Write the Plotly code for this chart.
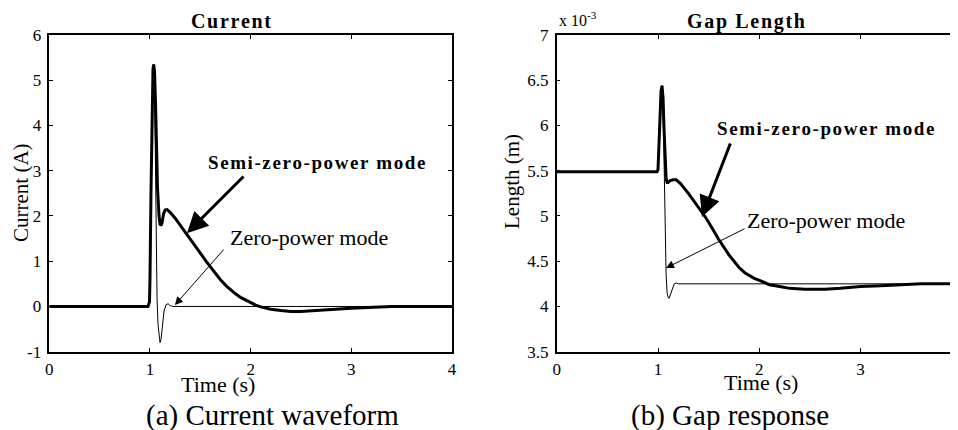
import plotly.graph_objects as go

# ---------------- data ----------------
t_cur_semi = [0, 0.98, 0.995, 1.0, 1.01, 1.02, 1.03, 1.037, 1.045, 1.055, 1.065, 1.075, 1.09,
              1.1, 1.11, 1.12, 1.135, 1.15, 1.17, 1.2, 1.25, 1.3, 1.36, 1.4, 1.45, 1.5, 1.56,
              1.6, 1.65, 1.7, 1.76, 1.8, 1.85, 1.9, 1.95, 2.0, 2.05, 2.1, 2.2, 2.3, 2.4, 2.5,
              2.6, 2.8, 3.0, 3.2, 3.4, 4.0]
cur_semi = [0, 0, 0.1, 0.6, 2.5, 4.3, 5.25, 5.35, 5.2, 4.5, 3.5, 2.6, 2.0,
            1.82, 1.79, 1.85, 2.05, 2.13, 2.14, 2.08, 1.95, 1.8, 1.62, 1.5, 1.34, 1.18, 0.99,
            0.87, 0.72, 0.59, 0.45, 0.37, 0.28, 0.2, 0.14, 0.08, 0.03, -0.01, -0.06, -0.09,
            -0.11, -0.11, -0.1, -0.07, -0.04, -0.02, 0.0, 0.0]

t_cur_zero = [0, 0.98, 0.995, 1.0, 1.01, 1.02, 1.03, 1.037, 1.045, 1.05, 1.055, 1.06, 1.065,
              1.07, 1.08, 1.09, 1.1, 1.11, 1.125, 1.14, 1.16, 1.18, 1.2, 1.23, 4.0]
cur_zero = [0, 0, 0.1, 0.6, 2.5, 4.3, 5.25, 5.35, 4.9, 4.0, 3.0, 2.0, 1.0,
            0.2, -0.4, -0.72, -0.8, -0.72, -0.4, -0.1, 0.04, 0.06, 0.02, 0.0, 0.0]

t_gap_semi = [0, 0.99, 1.0, 1.01, 1.02, 1.03, 1.04, 1.05, 1.06, 1.07, 1.08, 1.09, 1.1, 1.12,
              1.15, 1.18, 1.22, 1.3, 1.4, 1.46, 1.5, 1.6, 1.7, 1.8, 1.86, 1.95, 2.02, 2.1,
              2.2, 2.3, 2.45, 2.65, 2.8, 3.0, 3.2, 3.4, 3.6, 4.0]
gap_semi = [5.49, 5.49, 5.51, 5.8, 6.15, 6.38, 6.44, 6.3, 5.95, 5.6, 5.42, 5.37, 5.37, 5.39,
            5.4, 5.4, 5.36, 5.25, 5.1, 5.0, 4.93, 4.74, 4.57, 4.43, 4.37, 4.31, 4.28, 4.24,
            4.22, 4.2, 4.19, 4.19, 4.2, 4.22, 4.23, 4.24, 4.25, 4.25]

t_gap_zero = [0, 0.99, 1.0, 1.01, 1.02, 1.03, 1.04, 1.05, 1.06, 1.07, 1.08, 1.09, 1.1, 1.11,
              1.12, 1.14, 1.16, 1.18, 1.2, 4.0]
gap_zero = [5.49, 5.49, 5.51, 5.8, 6.15, 6.38, 6.44, 6.2, 5.6, 4.8, 4.35, 4.15, 4.1, 4.09,
            4.12, 4.2, 4.25, 4.26, 4.25, 4.25]

x_ticks = [0, 1, 2, 3, 4]
x_ticks_right = [0, 1, 2, 3]
cur_ticks = [-1, 0, 1, 2, 3, 4, 5, 6]
cur_tick_text = ["-1", "0", "1", "2", "3", "4", "5", "6"]
gap_ticks = [3.5, 4, 4.5, 5, 5.5, 6, 6.5, 7]
gap_tick_text = ["3.5", "4", "4.5", "5", "5.5", "6", "6.5", "7"]

# ---------------- figure ----------------
OFF = 8  # page body margin
W, H = 958 - OFF, 430 - OFF
SERIF = "Liberation Serif, Times New Roman, serif"
HS = "\u200a"


def spaced(s):
    return HS.join(list(s))


def px(x):
    return (x - OFF) / W


def py(y):
    return 1 - (y - OFF) / H


fig = go.Figure()
fig.add_trace(go.Scatter(x=t_cur_zero, y=cur_zero, mode="lines",
                         line=dict(color="black", width=1), xaxis="x", yaxis="y"))
fig.add_trace(go.Scatter(x=t_cur_semi, y=cur_semi, mode="lines",
                         line=dict(color="black", width=3), xaxis="x", yaxis="y"))
fig.add_trace(go.Scatter(x=t_gap_zero, y=gap_zero, mode="lines",
                         line=dict(color="black", width=1), xaxis="x2", yaxis="y2"))
fig.add_trace(go.Scatter(x=t_gap_semi, y=gap_semi, mode="lines",
                         line=dict(color="black", width=3), xaxis="x2", yaxis="y2"))

tickfont = dict(family=SERIF, size=17, color="black")
axis_common = dict(showline=True, linecolor="black", linewidth=1.5, ticks="inside",
                   ticklen=4, tickwidth=1, tickcolor="black", showgrid=False,
                   zeroline=False, tickfont=tickfont, automargin=False)

ydom = [py(351.7), py(35)]
fig.update_layout(
    width=W, height=H, autosize=False,
    margin=dict(l=0, r=0, t=0, b=0),
    paper_bgcolor="white", plot_bgcolor="white",
    showlegend=False,
    xaxis=dict(domain=[px(49.3), px(452)], range=[0, 4], tickvals=x_ticks,
               mirror="ticks", anchor="y", ticklabelstandoff=1, **axis_common),
    yaxis=dict(domain=ydom, range=[-1, 6], tickvals=cur_ticks, ticktext=cur_tick_text,
               mirror="ticks", anchor="x", ticklabelstandoff=3, **axis_common),
    xaxis2=dict(domain=[px(556.7), 1.0], range=[0, (958 - 556.7) / 101.3],
                tickvals=x_ticks_right, mirror="ticks", anchor="y2", ticklabelstandoff=1,
                **axis_common),
    yaxis2=dict(domain=ydom, range=[3.5, 7], tickvals=gap_ticks, ticktext=gap_tick_text,
                mirror=False, anchor="x2", ticklabelstandoff=3, **axis_common),
)

ann = []


def text(x, y, s, size, bold=False, xanchor="center", angle=0):
    s2 = "<b>" + s + "</b>" if bold else s
    ann.append(dict(x=px(x), y=py(y), xref="paper", yref="paper", text=s2,
                    showarrow=False, xanchor=xanchor, yanchor="middle", textangle=angle,
                    font=dict(family=SERIF, size=size, color="black")))


text(231, 21, spaced("Current"), 20, bold=True)
text(745.5, 21, spaced("Gap Length"), 20, bold=True)
text(557, 19, "x 10<sup>-3</sup>", 16, xanchor="left")
text(21, 193, "Current (A)", 21, angle=-90)
text(512, 182, "Length (m)", 21, angle=-90)
text(218, 384, "Time (s)", 22)
text(761, 382, "Time (s)", 22)
text(272, 415, "(a) Current waveform", 29)
text(730, 415, "(b) Gap response", 29)
text(316, 163, spaced("Semi-zero-power mode"), 19, bold=True)
text(825.5, 128, spaced("Semi-zero-power mode"), 19, bold=True)
text(309, 238, "Zero-power mode", 22)
text(826, 220, "Zero-power mode", 22)


def arrow(xref, yref, tip, tail, width, head, size):
    ann.append(dict(x=tip[0], y=tip[1], ax=tail[0], ay=tail[1], xref=xref, yref=yref,
                    axref=xref, ayref=yref, text="", showarrow=True, arrowhead=head,
                    arrowsize=size, arrowwidth=width, arrowcolor="black"))


arrow("x", "y", (1.367, 1.62), (1.944, 2.905), 3, 2, 1.4)
arrow("x", "y", (1.248, 0.032), (1.745, 1.29), 1, 2, 1.6)
arrow("x2", "y2", (1.434, 4.989), (1.72, 5.818), 3, 2, 1.4)
arrow("x2", "y2", (1.079, 4.425), (1.869, 4.867), 1, 2, 1.6)

fig.update_layout(annotations=ann)
fig.write_html("out.html")
